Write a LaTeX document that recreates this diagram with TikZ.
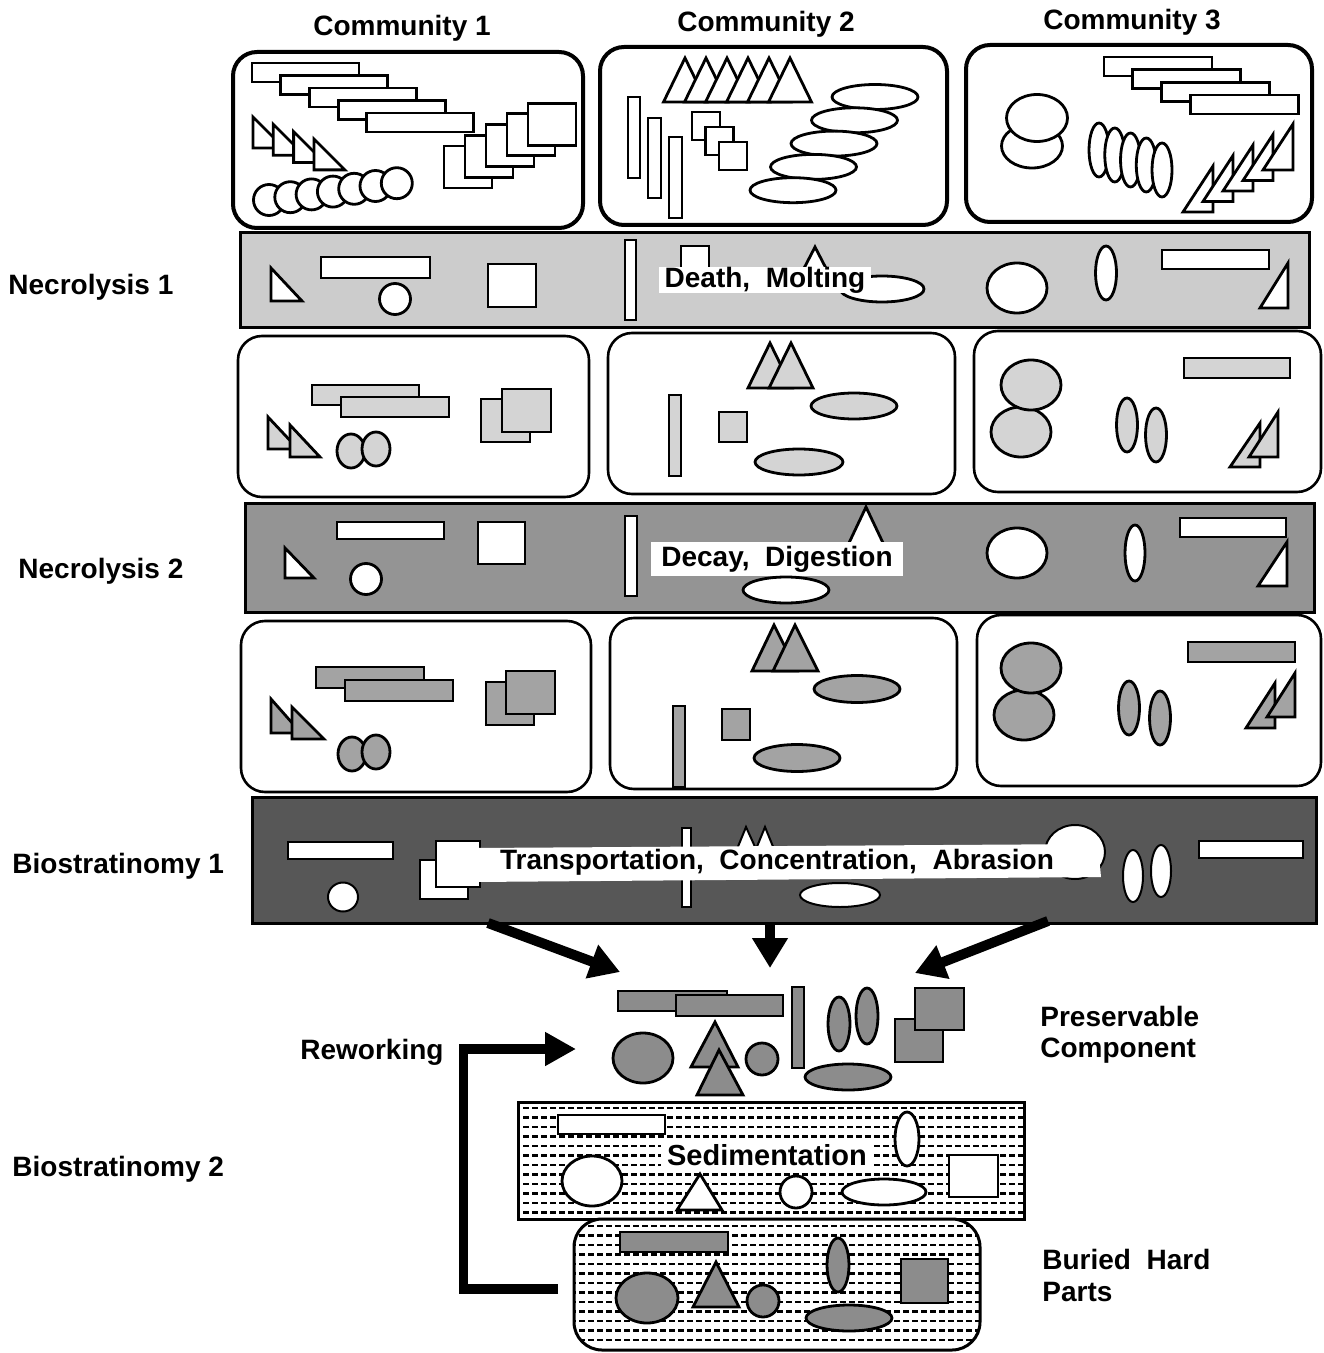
\documentclass[tikz,border=0pt]{standalone}
\usepackage{fontspec}
\setmainfont{Liberation Sans}
\usetikzlibrary{arrows.meta}
\definecolor{necA}{gray}{0.80}
\definecolor{necB}{gray}{0.58}
\definecolor{bioA}{gray}{0.34}
\definecolor{fillA}{gray}{0.83}
\definecolor{fillB}{gray}{0.64}
\definecolor{fillC}{gray}{0.55}
\newcommand\myR[5]{\draw[shp,fill=#5] (#1,#2) rectangle (#3,#4);}
\newcommand\myE[5]{\draw[shp,fill=#5] (#1,#2) ellipse [x radius={#3*0.5pt}, y radius={#4*0.5pt}];}
\newcommand\myT[7]{\draw[shp,fill=#7] (#1,#2)--(#3,#4)--(#5,#6)--cycle;}
\begin{document}
\begin{tikzpicture}[x=0.5pt,y=-0.5pt,
  shp/.style={draw=black, line width=1.4pt, line join=miter},
  lbl/.style={font=\bfseries\fontsize{14pt}{16pt}\selectfont, inner sep=0pt},
  cbox/.style={draw=black, line width=2pt, rounded corners=12pt, fill=white},
  sbox/.style={draw=black, line width=1.3pt, rounded corners=12pt, fill=white},
  band/.style={draw=black, line width=1.5pt},
  bigarrow/.style={line width=5pt, -{Triangle[length=15pt,width=17pt]}},
  sed/.style={line width=1.2pt, dash pattern=on 2.8pt off 1.7pt}]
\useasboundingbox (0,0) rectangle (1323,1353);

% ---------------- column titles
\node[lbl,anchor=base] (c1) at (402,36) {Community 1};
\node[lbl,anchor=base] (c2) at (766,32) {Community 2};
\node[lbl,anchor=base] (c3) at (1132,30) {Community 3};

% ---------------- row labels
\node[lbl,anchor=base west] (n1) at (8,295) {Necrolysis 1};
\node[lbl,anchor=base west] (n2) at (18,578) {Necrolysis 2};
\node[lbl,anchor=base west] (b1) at (12,873) {Biostratinomy 1};
\node[lbl,anchor=base west] (b2) at (12,1176) {Biostratinomy 2};
\node[lbl,anchor=base west] (rw) at (300,1059) {Reworking};
\node[lbl,anchor=base west] (pc1) at (1040,1026) {Preservable};
\node[lbl,anchor=base west] (pc2) at (1040,1057) {Component};
\node[lbl,anchor=base west] (bh1) at (1042,1269) {Buried\ \ Hard};
\node[lbl,anchor=base west] (bh2) at (1042,1301) {Parts};

% ================= ROW 1 : communities
\draw[cbox] (233,52) rectangle (583,228);
\foreach \i in {0,...,4} {\draw[shp,fill=white] ({252+28.7*\i},{63+12.5*\i}) rectangle +(107,19);}
\foreach \i in {0,...,3} {\myT{253+20.3*\i}{117+7.3*\i}{253+20.3*\i}{148+7.3*\i}{284+20.3*\i}{148+7.3*\i}{white}}
\foreach \i in {0,...,6} {\myE{269+21.3*\i}{200-2.8*\i}{15.5}{15.5}{white}}
\foreach \i in {0,...,4} {\draw[shp,fill=white] ({444+21*\i},{146-10.7*\i}) rectangle +(48,42);}

\draw[cbox] (600,47) rectangle (947,225);
\foreach \i in {0,...,5} {\myT{663.5+21*\i}{102}{685+21*\i}{58}{706.5+21*\i}{102}{white}}
\myR{628}{97}{640}{178}{white}
\myR{648}{118}{661}{198}{white}
\myR{669}{137}{682}{218}{white}
\foreach \i in {0,...,2} {\draw[shp,fill=white] ({692+13.5*\i},{112+15*\i}) rectangle +(28,28);}
\foreach \i in {0,...,4} {\myE{875-20.5*\i}{97+23.3*\i}{43}{12.5}{white}}

\draw[cbox] (966,45) rectangle (1312,222);
\foreach \i in {0,...,3} {\draw[shp,fill=white] ({1104+28.7*\i},{57+12.7*\i}) rectangle +(108,19);}
\myE{1032}{146}{30.5}{22}{white}
\myE{1037}{118}{30.5}{23.5}{white}
\foreach \i in {0,...,4} {\myE{1099+15.75*\i}{150+5*\i}{10}{27}{white}}
\foreach \i in {0,...,4} {\myT{1183+20*\i}{212-10.5*\i}{1213+20*\i}{212-10.5*\i}{1213+20*\i}{166-10.5*\i}{white}}

% ================= NECROLYSIS 1 band
\draw[band,fill=necA] (240,233) rectangle (1309,328);
\myT{271}{268}{271}{301}{302}{301}{white}
\myR{321}{257}{430}{278}{white}
\myE{395}{299}{15.5}{15.5}{white}
\myR{488}{264}{536}{307}{white}
\myR{625}{240}{636}{320}{white}
\myR{681}{246}{709}{276}{white}
\myT{800}{276}{815}{247}{830}{276}{white}
\myE{882}{289}{42}{13}{white}
\node[lbl,fill=white,inner xsep=3pt,inner ysep=0pt] (t1) at (765,280) {Death,\ \ Molting};
\myE{1017}{288}{30}{25}{white}
\myE{1106}{273}{10.5}{27}{white}
\myR{1162}{250}{1269}{269}{white}
\myT{1288}{263}{1288}{308}{1260}{308}{white}

% ================= ROW 2 boxes
\draw[sbox] (238,336) rectangle (589,497);
\myR{312}{385}{419}{405}{fillA}
\myR{341}{397}{449}{417}{fillA}
\myT{268}{417}{268}{449}{298}{449}{fillA}
\myT{290}{425}{290}{457}{320}{457}{fillA}
\myE{351}{451}{14}{17}{fillA}
\myE{376}{449}{14}{17}{fillA}
\myR{481}{399}{530}{442}{fillA}
\myR{502}{389}{551}{432}{fillA}

\draw[sbox] (608,333) rectangle (955,494);
\myT{748}{388}{770}{343}{792}{388}{fillA}
\myT{769}{388}{791}{343}{813}{388}{fillA}
\myR{669}{395}{681}{476}{fillA}
\myR{719}{412}{747}{442}{fillA}
\myE{854}{406}{43}{13}{fillA}
\myE{799}{462}{44}{13}{fillA}

\draw[sbox] (974,331) rectangle (1321,492);
\myE{1021}{432}{30}{25}{fillA}
\myE{1031}{385}{30}{25}{fillA}
\myE{1127}{425}{10.5}{27}{fillA}
\myE{1156}{435}{10.5}{27}{fillA}
\myR{1184}{358}{1290}{378}{fillA}
\myT{1260}{423}{1260}{467}{1230}{467}{fillA}
\myT{1278}{412}{1278}{457}{1249}{457}{fillA}

% ================= NECROLYSIS 2 band
\draw[band,fill=necB] (245,503) rectangle (1314,612);
\myT{285}{548}{285}{578}{314}{578}{white}
\myR{337}{522}{444}{539}{white}
\myE{366}{579}{15.5}{15.5}{white}
\myR{478}{522}{525}{564}{white}
\myR{625}{516}{637}{596}{white}
\myT{848}{545}{866}{507}{884}{545}{white}
\node[lbl,fill=white,inner xsep=5pt,inner ysep=2pt] (t2) at (777,559) {Decay,\ \ Digestion};
\myE{786}{590}{43}{13}{white}
\myE{1017}{553}{30}{25}{white}
\myE{1135}{553}{10}{28}{white}
\myR{1180}{518}{1286}{537}{white}
\myT{1287}{542}{1287}{586}{1258}{586}{white}

% ================= ROW 3 boxes
\draw[sbox] (241,621) rectangle (591,792);
\myR{316}{667}{424}{688}{fillB}
\myR{345}{680}{453}{701}{fillB}
\myT{271}{699}{271}{733}{301}{733}{fillB}
\myT{292}{707}{292}{739}{324}{739}{fillB}
\myE{352}{754}{14}{17}{fillB}
\myE{376}{752}{14}{17}{fillB}
\myR{486}{682}{534}{725}{fillB}
\myR{506}{671}{555}{714}{fillB}

\draw[sbox] (610,618) rectangle (957,789);
\myT{752}{671}{774}{625}{797}{671}{fillB}
\myT{773}{671}{795}{625}{818}{671}{fillB}
\myR{673}{706}{685}{787}{fillB}
\myR{722}{709}{750}{740}{fillB}
\myE{857}{689}{43}{13.5}{fillB}
\myE{797}{758}{43}{13.5}{fillB}

\draw[sbox] (977,615) rectangle (1321,786);
\myE{1024}{715}{30}{25}{fillB}
\myE{1031}{668}{30}{25}{fillB}
\myE{1129}{708}{10.5}{27}{fillB}
\myE{1160}{718}{10.5}{27}{fillB}
\myR{1188}{642}{1295}{662}{fillB}
\myT{1275}{683}{1275}{728}{1246}{728}{fillB}
\myT{1295}{673}{1295}{717}{1267}{717}{fillB}

% ================= BIOSTRATINOMY 1 band
\draw[band,fill=bioA] (252,797) rectangle (1316,923);
\begin{scope}[shp/.append style={line width=1pt}]
\myR{288}{842}{393}{859}{white}
\myE{343}{897}{15}{14.5}{white}
\myR{420}{860}{468}{899}{white}
\myR{436}{841}{480}{887}{white}
\myT{737}{849}{746}{827}{756}{849}{white}
\myT{756}{849}{765}{827}{774}{849}{white}
\myE{1075}{852}{30}{27}{white}
\myR{682}{828}{691}{907}{white}
\fill[white] (474,848) -- (1098,844) -- (1101,877) -- (474,882) -- cycle;
\myE{840}{895}{40}{12}{white}
\myE{1133}{876}{10}{26}{white}
\myE{1161}{871}{10}{26}{white}
\myR{1199}{841}{1303}{858}{white}
\end{scope}
\node[lbl] (t3) at (777,862) {Transportation,\ \ Concentration,\ \ Abrasion};

% ================= arrows to preservable component
\coordinate (aL0) at (488,923);
\coordinate (aL1) at (620,972);
\coordinate (aM0) at (770,923);
\coordinate (aM1) at (770,968);
\coordinate (aR0) at (1048,921);
\coordinate (aR1) at (915,973);
\draw[bigarrow] (aL0) -- (aL1);
\draw[bigarrow] (aM0) -- (aM1);
\draw[bigarrow] (aR0) -- (aR1);

% ================= preservable component
\myR{618}{991}{727}{1011}{fillC}
\myR{676}{995}{783}{1016}{fillC}
\myR{792}{987}{804}{1068}{fillC}
\myE{839}{1024}{11}{27}{fillC}
\myE{867}{1016}{11}{28}{fillC}
\myR{895}{1019}{943}{1062}{fillC}
\myR{915}{988}{964}{1030}{fillC}
\myE{643}{1058}{30}{25}{fillC}
\myT{691}{1067}{715}{1022}{738}{1067}{fillC}
\myT{697}{1095}{719}{1050}{743}{1095}{fillC}
\myE{762}{1059}{16}{16}{fillC}
\myE{848}{1077}{43}{13}{fillC}

% ================= sedimentation box
\fill[white] (518,1102) rectangle (1024,1219);
\begin{scope}
\clip (518,1102) rectangle (1024,1219);
\foreach \yy in {1108,1117.5,...,1216} {\draw[sed] (514,\yy) -- (1030,\yy);}
\end{scope}
\draw[band] (518,1102) rectangle (1024,1219);
\myR{558}{1115}{665}{1134}{white}
\myE{907}{1139}{12}{27}{white}
\myE{592}{1181}{30}{25}{white}
\myT{677}{1210}{700}{1174}{722}{1210}{white}
\myE{796}{1192}{16}{16}{white}
\myE{884}{1192}{42}{13}{white}
\myR{949}{1155}{998}{1197}{white}
\node[lbl,font=\bfseries\fontsize{14.5pt}{16pt}\selectfont,fill=white,inner xsep=3pt,inner ysep=1pt] (t4) at (767,1155) {Sedimentation};

% ================= buried hard parts box
\fill[white,rounded corners=14pt] (574,1219) rectangle (980,1350);
\begin{scope}
\clip[rounded corners=14pt] (574,1219) rectangle (980,1350);
\foreach \yy in {1226,1235.5,...,1348} {\draw[sed] (570,\yy) -- (985,\yy);}
\end{scope}
\draw[band,rounded corners=14pt] (574,1219) rectangle (980,1350);
\myR{620}{1232}{728}{1252}{fillC}
\myE{838}{1265}{11}{27}{fillC}
\myE{647}{1298}{31}{25}{fillC}
\myT{693}{1307}{716}{1262}{739}{1307}{fillC}
\myE{763}{1301}{16}{16}{fillC}
\myE{849}{1318}{43}{13}{fillC}
\myR{901}{1259}{948}{1303}{fillC}

% ================= reworking arrow
\coordinate (rw0) at (558,1289);
\coordinate (rwc) at (463.5,1289);
\coordinate (rw1) at (576,1049);
\draw[line width=4.8pt, line join=miter, -{Triangle[length=15.5pt,width=16pt]}] (rw0) -- (rwc) |- (rw1);
\end{tikzpicture}
\end{document}
